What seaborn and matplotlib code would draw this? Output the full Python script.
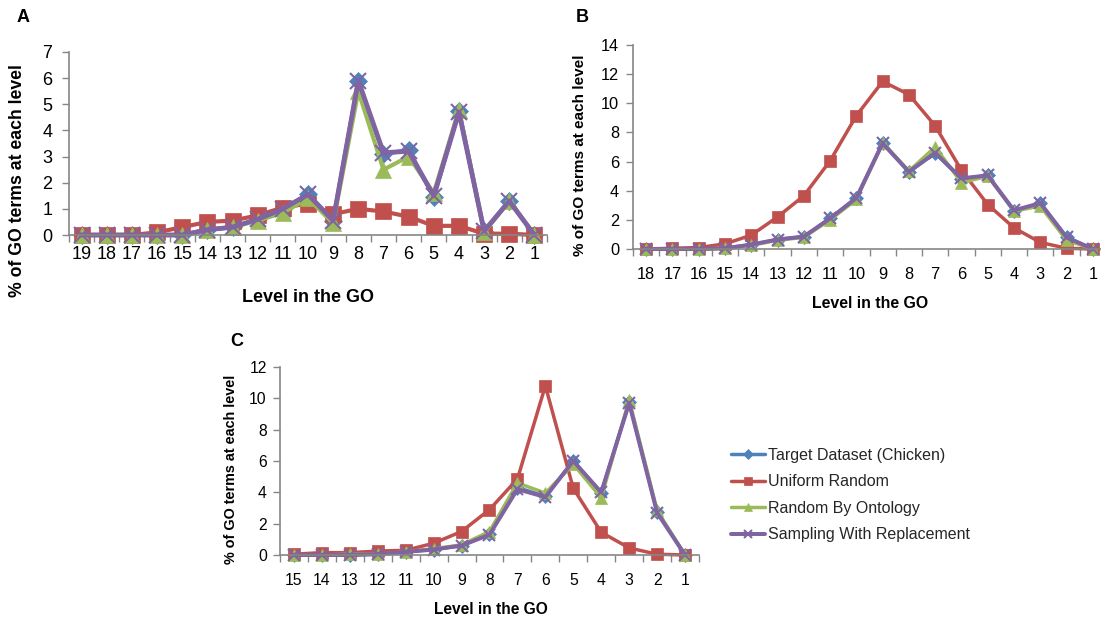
import numpy as np
import pandas as pd
import matplotlib
matplotlib.use("Agg")
import matplotlib.pyplot as plt
import seaborn as sns

# ---- data ----
levels_a = list(range(19, 0, -1))
target_a = [0, 0, 0, 0, 0, 0.2, 0.3, 0.6, 1.0, 1.55, 0.55, 5.9, 3.1, 3.25, 1.45, 4.75, 0.15, 1.3, 0]
uniform_a = [0, 0, 0, 0.1, 0.3, 0.5, 0.55, 0.75, 1.05, 1.2, 0.8, 1.0, 0.9, 0.7, 0.35, 0.35, 0.05, 0.05, 0]
ontology_a = [0, 0, 0, 0, 0, 0.2, 0.3, 0.55, 0.85, 1.4, 0.45, 5.5, 2.5, 3.0, 1.6, 4.8, 0.1, 1.3, 0]
sampling_a = [0, 0, 0, 0, 0, 0.2, 0.3, 0.6, 1.0, 1.55, 0.55, 5.9, 3.15, 3.2, 1.5, 4.7, 0.15, 1.3, 0]

levels_b = list(range(18, 0, -1))
target_b = [0, 0, 0, 0.05, 0.3, 0.65, 0.85, 2.1, 3.5, 7.3, 5.3, 6.6, 4.8, 5.05, 2.6, 3.15, 0.8, 0]
uniform_b = [0, 0.05, 0.1, 0.35, 0.95, 2.2, 3.65, 6.05, 9.15, 11.5, 10.6, 8.45, 5.4, 3.05, 1.45, 0.45, 0.05, 0]
ontology_b = [0, 0, 0, 0.05, 0.25, 0.6, 0.8, 2.0, 3.4, 7.3, 5.35, 7.0, 4.55, 5.0, 2.6, 2.95, 0.6, 0]
sampling_b = [0, 0, 0, 0.05, 0.3, 0.65, 0.85, 2.1, 3.5, 7.25, 5.3, 6.6, 4.85, 5.05, 2.65, 3.15, 0.8, 0]

levels_c = list(range(15, 0, -1))
target_c = [0, 0, 0, 0.05, 0.2, 0.35, 0.6, 1.35, 4.3, 3.75, 6.0, 3.95, 9.75, 2.75, 0]
uniform_c = [0.05, 0.15, 0.15, 0.25, 0.3, 0.75, 1.5, 2.9, 4.85, 10.8, 4.25, 1.45, 0.45, 0.05, 0]
ontology_c = [0, 0, 0.05, 0.05, 0.2, 0.4, 0.65, 1.5, 4.6, 3.95, 5.8, 3.65, 9.9, 2.85, 0]
sampling_c = [0, 0, 0, 0.05, 0.2, 0.35, 0.6, 1.3, 4.2, 3.7, 6.0, 4.0, 9.7, 2.7, 0]

names = ["Target Dataset (Chicken)", "Uniform Random", "Random By Ontology", "Sampling With Replacement"]

# ---- style ----
colors = ["#4F81BD", "#C0504D", "#9BBB59", "#8064A2"]
markers = ["D", "s", "^", "x"]
spine_col = "#868686"

sns.set_theme(style="white")
plt.rcParams["font.family"] = ["Liberation Sans", "DejaVu Sans"]

W, H = 1101, 618
fig = plt.figure(figsize=(W / 100, H / 100), dpi=100)


def box(l, t, r, b):
    return [l / W, 1 - b / H, (r - l) / W, (b - t) / H]


def txt(x, y, s, **kw):
    fig.text(x / W, 1 - y / H, s, ha="center", va="center", **kw)


def panel(rect, levels, series, ymax, ystep, fs, xpad, ypad, lw, ms):
    ax = fig.add_axes(rect)
    for vals, col, mk in zip(series, colors, markers):
        size = ms * 0.8 if mk == "D" else ms
        width = lw * 1.15 if mk == "x" else lw
        sns.lineplot(x=levels, y=vals, ax=ax, color=col, marker=mk,
                     markersize=size, markeredgecolor=col,
                     markeredgewidth=1.5 if mk == "x" else 0.5,
                     linewidth=width, errorbar=None, legend=False, clip_on=False)
    ax.set_xlim(levels[0] + 0.5, levels[-1] - 0.5)
    ax.set_ylim(0, ymax)
    ax.set_xticks(levels)
    ax.set_xticklabels([str(v) for v in levels])
    ax.set_xticks(np.arange(levels[-1] - 0.5, levels[0] + 1, 1.0), minor=True)
    ax.set_yticks(np.arange(0, ymax + 0.1, ystep))
    ax.tick_params(axis="x", which="major", length=0, pad=xpad, labelsize=fs, colors="black")
    ax.tick_params(axis="x", which="minor", length=5, width=1, color=spine_col, direction="out", bottom=True)
    ax.tick_params(axis="y", length=5, width=1, color=spine_col, direction="out", left=True,
                   pad=ypad, labelsize=fs, labelcolor="black")
    for s in ["top", "right"]:
        ax.spines[s].set_visible(False)
    for s in ["left", "bottom"]:
        ax.spines[s].set_color(spine_col)
        ax.spines[s].set_linewidth(1.2)
    ax.set_xlabel("")
    ax.set_ylabel("")
    return ax


ax_a = panel(box(69, 52, 547, 235), levels_a,
             [target_a, uniform_a, ontology_a, sampling_a], 7, 1, 13, 8, 7, 3.0, 11)
ax_b = panel(box(633, 45, 1106, 249), levels_b,
             [target_b, uniform_b, ontology_b, sampling_b], 14, 2, 11.8, 13, 5, 2.5, 9)
ax_c = panel(box(280, 367, 699, 555), levels_c,
             [target_c, uniform_c, ontology_c, sampling_c], 12, 2, 11.3, 13, 4.5, 2.5, 8.5)

# axis titles and panel letters
lab = dict(fontweight="bold", color="black")
txt(308, 298, "Level in the GO", fontsize=13, **lab)
txt(18, 181, "% of GO terms at each level", fontsize=12.7, rotation=90, **lab)
txt(870, 303, "Level in the GO", fontsize=11.4, **lab)
txt(580, 155, "% of GO terms at each level", fontsize=11, rotation=90, **lab)
txt(491, 609, "Level in the GO", fontsize=11.2, **lab)
txt(231, 469, "% of GO terms at each level", fontsize=10.4, rotation=90, **lab)
txt(23, 18, "A", fontsize=13, **lab)
txt(582, 17, "B", fontsize=13, **lab)
txt(237, 341, "C", fontsize=13, **lab)

fig.legend(handles=ax_c.lines[:4], labels=names, loc="upper left",
           bbox_to_anchor=(723 / W, 1 - 440 / H), frameon=False, fontsize=11.5,
           handlelength=2.1, handletextpad=0.2, labelspacing=0.72, borderpad=0,
           markerscale=0.75)

fig.savefig("out.png", dpi=100)
